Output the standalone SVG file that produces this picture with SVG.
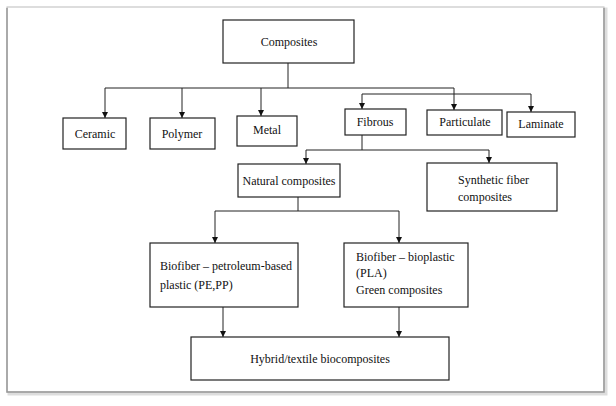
<svg xmlns="http://www.w3.org/2000/svg" width="616" height="406" viewBox="0 0 616 406">
<defs>
<marker id="ah" markerUnits="userSpaceOnUse" markerWidth="6" markerHeight="6" refX="6" refY="3" orient="auto" viewBox="0 0 6 6">
<path d="M0,0 L6,3 L0,6 Z" fill="#111"/>
</marker>
<style>
.box{fill:#fff;stroke:#222;stroke-width:1.2}
.t{font-family:"Liberation Serif","Times New Roman",serif;font-size:12px;fill:#111}
.c{text-anchor:middle}
.ln{fill:none;stroke:#222;stroke-width:1}
.ar{fill:none;stroke:#222;stroke-width:1;marker-end:url(#ah)}
</style>
</defs>
<rect width="616" height="406" fill="#fff"/>
<g id="frame">
<rect x="9" y="9" width="597" height="385" fill="none" stroke="#ddd" stroke-width="3"/>
<rect x="7" y="7" width="597" height="385" fill="#fff" stroke="#bbb" stroke-width="1"/>
<path d="M7,8 V392 H604 V8" fill="none" stroke="#999" stroke-width="1.5"/>
</g>
<g id="connectors">
<path class="ln" d="M288,63 V88 M105,88 H454 M362,94 H531 M362,135 V150 M306,150 H489 M298,197 V211 M215,211 H399"/>
<path class="ar" d="M105,88 V118"/>
<path class="ar" d="M182,88 V118"/>
<path class="ar" d="M261,88 V116"/>
<path class="ar" d="M454,88 V110"/>
<path class="ar" d="M362,94 V109"/>
<path class="ar" d="M531,94 V112"/>
<path class="ar" d="M306,150 V164"/>
<path class="ar" d="M489,150 V163"/>
<path class="ar" d="M215,211 V243"/>
<path class="ar" d="M399,211 V243"/>
<path class="ar" d="M223,307 V337"/>
<path class="ar" d="M399,307 V337"/>
</g>
<g id="composites"><rect class="box" x="223" y="20" width="131" height="43"/><text class="t c" x="289" y="46">Composites</text></g>
<g id="ceramic"><rect class="box" x="63" y="118" width="63" height="31"/><text class="t c" x="95" y="138">Ceramic</text></g>
<g id="polymer"><rect class="box" x="150" y="118" width="65" height="31"/><text class="t c" x="182" y="138">Polymer</text></g>
<g id="metal"><rect class="box" x="237" y="116" width="60" height="30"/><text class="t c" x="267" y="134">Metal</text></g>
<g id="fibrous"><rect class="box" x="345" y="109" width="61" height="26"/><text class="t c" x="375" y="126">Fibrous</text></g>
<g id="particulate"><rect class="box" x="427" y="110" width="75" height="25"/><text class="t c" x="465" y="126">Particulate</text></g>
<g id="laminate"><rect class="box" x="507" y="112" width="68" height="25"/><text class="t c" x="541" y="128">Laminate</text></g>
<g id="natural"><rect class="box" x="238" y="164" width="102" height="33"/><text class="t c" x="289" y="185">Natural composites</text></g>
<g id="synthetic"><rect class="box" x="427" y="163" width="130" height="48"/><text class="t" x="458" y="184">Synthetic fiber</text><text class="t" x="458" y="201">composites</text></g>
<g id="petroleum"><rect class="box" x="150" y="243" width="148" height="64"/><text class="t" x="160" y="270">Biofiber – petroleum-based</text><text class="t" x="160" y="289">plastic (PE,PP)</text></g>
<g id="bioplastic"><rect class="box" x="344" y="243" width="124" height="64"/><text class="t" x="356" y="261">Biofiber – bioplastic</text><text class="t" x="356" y="277">(PLA)</text><text class="t" x="356" y="294">Green composites</text></g>
<g id="hybrid"><rect class="box" x="191" y="337" width="258" height="43"/><text class="t c" x="320" y="363">Hybrid/textile biocomposites</text></g>
</svg>
